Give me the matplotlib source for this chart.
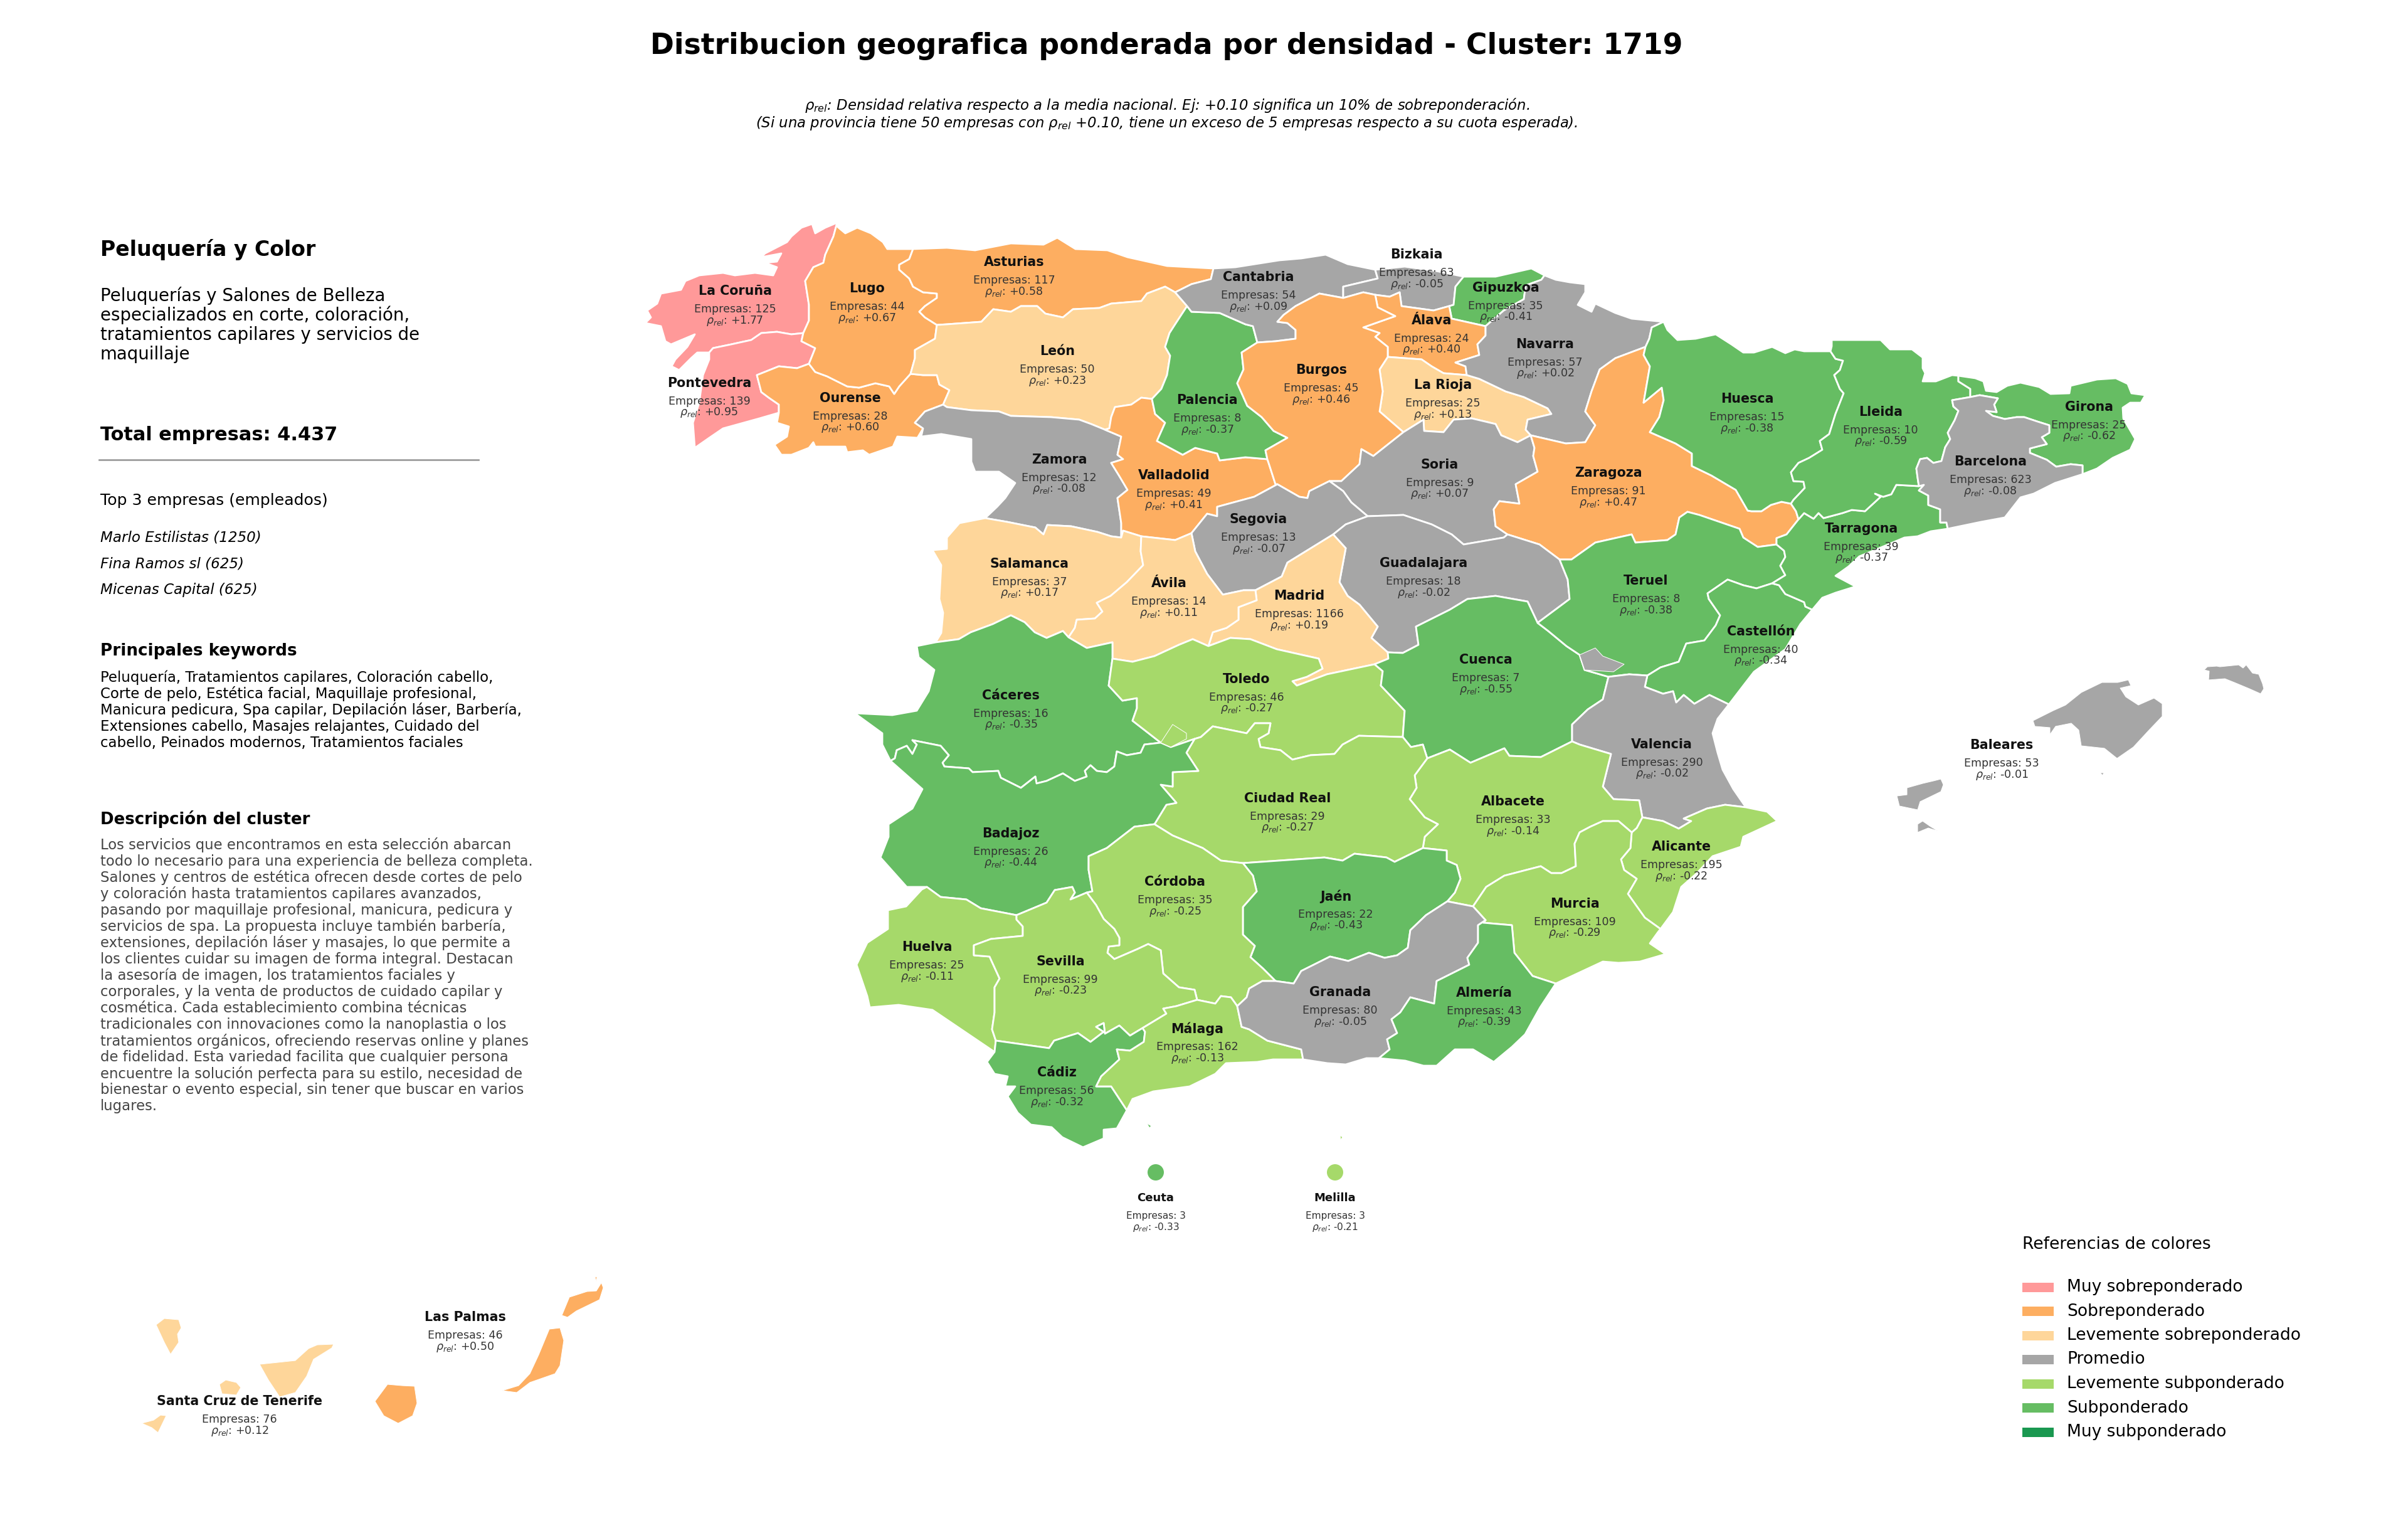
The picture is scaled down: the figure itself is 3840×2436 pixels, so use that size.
#!/usr/bin/env python3
"""Mapa de provincias ponderado por densidad, cluster 1719."""

import matplotlib
matplotlib.use("Agg")
import matplotlib.pyplot as plt
from matplotlib.patches import Circle, Polygon, Rectangle

# shared province borders, traced in image pixels
cor_coast = [(1335,355),(1316,363),(1300,372),(1295,357),(1278,363),(1262,377),(1255,386),(1220,404),(1214,410),(1246,404),(1239,417),(1220,419),(1239,426),(1233,439),(1204,435),(1172,439),(1153,435),(1134,437),(1115,439),(1093,448),(1086,462),(1054,468),(1048,484),(1032,495),(1038,506),(1029,515),(1054,520),(1061,544),(1070,549),(1108,533),(1096,553),(1077,573),(1071,584),(1083,590),(1102,571),(1112,562),(1131,562)]
cor_pon = [(1131,562),(1137,555),(1166,549),(1198,542),(1214,531),(1239,529),(1262,533),(1281,531)]
cor_lugo = [(1335,355),(1329,377),(1316,406),(1313,419),(1297,426),(1284,448),(1290,486),(1290,511),(1281,531)]
pon_lugo = [(1281,531),(1278,544),(1300,555),(1290,580)]
pon_coast = [(1131,562),(1131,573),(1121,598),(1115,642),(1105,674),(1108,714),(1131,698),(1153,683),(1211,667),(1242,658)]
pon_our = [(1290,580),(1271,587),(1242,584),(1207,598),(1214,625),(1226,634),(1242,645),(1242,658)]
our_south = [(1242,658),(1239,674),(1258,680),(1255,696),(1235,709),(1246,725),(1262,725),(1290,714),(1297,705),(1300,712),(1348,712),(1351,721),(1376,718),(1386,725),(1424,712),(1431,696),(1463,698),(1472,683)]
our_zam = [(1472,683),(1459,674),(1475,656),(1504,645)]
our_leon = [(1504,645),(1514,622),(1498,613),(1494,598),(1472,598),(1452,596)]
our_lugo = [(1452,596),(1434,616),(1426,628),(1418,616),(1396,611),(1370,618),(1351,616),(1319,600),(1300,593),(1290,580)]
lugo_coast = [(1335,355),(1336,362),(1348,372),(1367,363),(1389,372),(1408,386),(1415,397),(1456,397)]
lugo_ast = [(1456,397),(1450,413),(1434,422),(1434,430),(1450,444),(1456,457),(1472,466),(1494,468),(1494,475),(1475,488),(1466,497),(1475,506),(1494,518)]
lugo_leon = [(1494,518),(1491,540),(1459,558),(1459,571),(1452,596)]
ast_coast = [(1456,397),(1510,395),(1555,399),(1612,388),(1664,390),(1686,379),(1715,397),(1766,399),(1798,410),(1861,424),(1935,428)]
ast_cant = [(1935,428),(1931,445),(1900,453),(1874,466)]
ast_leon = [(1874,466),(1858,457),(1829,468),(1820,480),(1772,484),(1753,491),(1711,493),(1695,506),(1667,500),(1654,488),(1628,488),(1612,497),(1584,493),(1565,513),(1510,517),(1494,518)]
leon_cant = [(1874,466),(1893,488)]
leon_pal = [(1893,488),(1874,517),(1865,531),(1858,553),(1866,567),(1861,598),(1852,620),(1837,636)]
leon_val = [(1837,636),(1820,634),(1804,645),(1778,649),(1772,665),(1769,683),(1762,685)]
leon_zam = [(1762,685),(1740,676),(1721,669),(1676,665),(1612,663),(1593,656),(1549,654),(1510,649),(1504,645)]
zam_val = [(1762,685),(1788,696),(1782,725),(1791,732),(1772,738),(1785,759),(1798,781),(1782,794),(1788,834),(1788,857)]
zam_coast = [(1472,683),(1469,696),(1501,692),(1549,700),(1549,736),(1555,752),(1593,752),(1619,770),(1603,794),(1590,808),(1571,826)]
zam_sal = [(1571,826),(1606,832),(1651,841),(1664,852),(1670,837),(1708,839),(1750,848),(1772,855),(1788,857)]
sal_coast = [(1571,826),(1530,834),(1510,857),(1510,875),(1487,877),(1501,901),(1498,955),(1504,977),(1501,1009),(1492,1024)]
sal_cac = [(1492,1024),(1529,1019),(1548,1008),(1583,995),(1612,981),(1634,992),(1650,1008),(1669,1017),(1695,1006),(1704,1016)]
val_sal = [(1788,857),(1791,846),(1820,855)]
sal_avi = [(1820,855),(1819,879),(1823,901),(1797,928),(1771,950),(1749,961),(1758,975),(1746,986),(1717,988),(1714,1001),(1704,1016)]
avi_cac = [(1704,1016),(1733,1033),(1774,1024),(1774,1050)]
avi_tol = [(1774,1050),(1806,1055),(1841,1046),(1880,1028),(1902,1019),(1927,1030)]
avi_mad = [(1927,1030),(1934,1008),(1956,1001),(1975,988),(1975,968),(2004,957),(2002,941)]
val_avi = [(1820,855),(1874,861),(1900,850)]
val_seg = [(2037,772),(2000,792),(1941,808),(1941,823),(1925,819),(1900,850)]
val_bur = [(2021,732),(2024,741),(2034,772),(2037,772)]
seg_avi = [(1900,850),(1906,879),(1925,915),(1950,948),(1983,941),(2002,941)]
seg_mad = [(2002,941),(2044,919),(2053,897),(2126,852)]
seg_gua = [(2126,852),(2146,836),(2181,823)]
seg_sor = [(2120,767),(2142,783),(2155,801),(2181,823)]
seg_bur = [(2037,772),(2072,792),(2085,794),(2088,783),(2120,767)]
pal_val = [(1837,636),(1842,660),(1858,674),(1845,703),(1886,725),(1906,714),(1941,723),(1945,734),(1986,729),(2021,732)]
pal_bur = [(2021,732),(2018,718),(2053,698),(2031,687),(2012,665),(1989,647),(1973,611),(1983,589),(1980,562),(2005,546)]
pal_cant = [(2005,546),(1998,520),(1986,517),(1945,499),(1900,497),(1893,488)]
bur_cant = [(2005,546),(2034,544),(2066,540),(2066,526),(2053,515),(2037,513),(2047,502),(2066,488),(2104,468),(2142,475)]
cant_coast = [(1935,428),(1970,426),(2040,415),(2075,412),(2114,406),(2149,421),(2193,430)]
cant_biz = [(2193,430),(2197,444),(2142,457),(2142,475)]
biz_coast = [(2193,430),(2240,425),(2290,432),(2334,441)]
biz_gip = [(2334,441),(2321,457),(2318,486),(2311,488)]
biz_ala = [(2311,488),(2286,495),(2235,488),(2232,466),(2216,473),(2193,470)]
biz_bur = [(2193,470),(2174,466),(2142,475)]
gip_coast = [(2334,441),(2385,441),(2442,428),(2463,439)]
gip_nav = [(2463,439),(2458,446),(2433,455),(2430,477),(2398,495),(2369,520)]
gip_ala = [(2369,520),(2315,508),(2311,488)]
ala_nav = [(2369,520),(2369,535),(2356,549),(2359,566),(2321,578),(2337,584),(2339,598)]
ala_rio = [(2339,598),(2302,595),(2283,584),(2267,573),(2213,569)]
ala_bur = [(2193,470),(2197,490),(2225,504),(2174,522),(2200,531),(2193,537),(2213,553),(2213,569)]
rio_bur = [(2213,569),(2200,589),(2205,624),(2200,656),(2238,689)]
rio_sor = [(2238,689),(2270,669),(2271,687),(2302,689),(2318,669),(2347,667),(2385,676),(2394,694),(2420,705),(2441,694)]
rio_nav = [(2339,598),(2359,604),(2401,624),(2430,633),(2468,651),(2474,660),(2436,669),(2433,685),(2441,694)]
bur_sor = [(2120,767),(2139,767),(2168,740),(2171,716),(2190,727),(2238,689)]
nav_coast = [(2463,439),(2481,446),(2503,450),(2528,453),(2528,466),(2516,486),(2538,497),(2544,484),(2576,499),(2602,508),(2653,513)]
nav_hue = [(2624,553),(2630,540),(2634,522),(2653,513)]
nav_zar = [(2441,694),(2497,707),(2528,705),(2544,678),(2528,656),(2538,624),(2551,589),(2576,571),(2624,553)]
zar_sor = [(2404,852),(2385,839),(2382,812),(2391,799),(2423,803),(2417,772),(2452,752),(2445,727),(2447,714),(2441,694)]
sor_gua = [(2181,823),(2238,821),(2283,836),(2315,852),(2334,868),(2398,857),(2404,852)]
zar_hue = [(2624,553),(2621,566),(2631,584),(2621,642),(2650,618),(2653,638),(2646,665),(2631,689),(2672,707),(2698,723),(2698,743),(2729,758),(2768,781),(2787,814),(2793,815),(2809,815),(2824,805),(2841,800),(2856,803)]
zar_lle = [(2856,803),(2864,815),(2868,828)]
zar_tar = [(2868,828),(2849,852),(2833,858),(2833,868)]
zar_ter = [(2833,868),(2803,872),(2780,857),(2774,843),(2710,821),(2691,816),(2678,825),(2672,852),(2659,861),(2608,865),(2602,852),(2544,865),(2506,892),(2487,892)]
zar_gua = [(2487,892),(2455,868),(2404,852)]
gua_mad = [(2213,1040),(2187,1017),(2197,999),(2168,964),(2149,950),(2136,928),(2146,874),(2126,852)]
gua_cue = [(2452,993),(2436,959),(2385,950),(2340,955),(2312,972),(2258,999),(2262,1028),(2237,1041),(2213,1040)]
gua_ter = [(2487,892),(2500,924),(2503,955),(2452,993)]
mad_tol = [(1927,1030),(1962,1017),(1994,1019),(2036,1035),(2103,1050),(2109,1066),(2084,1079),(2061,1086),(2068,1093),(2116,1075),(2192,1059)]
mad_cue = [(2192,1059),(2214,1050),(2213,1040)]
cac_coast = [(1492,1024),(1462,1030),(1465,1048),(1490,1068),(1481,1102),(1462,1133),(1423,1140),(1363,1137),(1407,1169),(1407,1187),(1420,1213)]
cac_tol = [(1774,1050),(1768,1093),(1790,1117),(1813,1113),(1813,1129),(1806,1149),(1851,1184)]
cac_bad = [(1851,1184),(1825,1187),(1819,1200),(1797,1204),(1781,1198),(1777,1222),(1765,1231),(1749,1229),(1739,1220),(1730,1229),(1733,1238),(1714,1245),(1695,1233),(1669,1245),(1653,1249),(1651,1238),(1628,1256),(1596,1240),(1592,1229),(1551,1231),(1545,1225),(1506,1222),(1503,1216),(1513,1204),(1500,1189),(1455,1180),(1462,1187),(1455,1202),(1446,1189),(1430,1196),(1427,1209),(1420,1213)]
tol_bad = [(1851,1184),(1867,1191),(1905,1178)]
tol_cr = [(1905,1178),(1915,1175),(1934,1158),(1988,1169),(2001,1153),(2026,1153),(2023,1169),(2007,1178),(2010,1191),(2042,1196),(2061,1211),(2090,1204),(2128,1202),(2141,1187),(2167,1173),(2237,1175)]
tol_cue = [(2192,1059),(2205,1070),(2202,1093),(2240,1133),(2237,1175)]
cue_cr = [(2237,1175),(2250,1191),(2269,1187),(2276,1209)]
cue_alb = [(2276,1209),(2312,1195),(2345,1216),(2399,1193),(2407,1205),(2457,1207),(2507,1182)]
cue_val = [(2507,1182),(2507,1155),(2532,1131),(2556,1115),(2565,1079)]
ter_cue = [(2452,993),(2469,1006),(2498,1030),(2519,1044),(2527,1068),(2565,1079)]
ter_tar = [(2833,868),(2845,878),(2847,888),(2839,902),(2847,917),(2826,930)]
ter_cas = [(2826,930),(2801,938),(2780,933),(2755,924),(2723,946),(2725,955),(2743,981),(2736,997),(2718,1021),(2689,1026),(2677,1055),(2648,1064),(2627,1077)]
ter_val = [(2627,1077),(2598,1075),(2565,1079)]
cas_tar = [(2826,930),(2837,933),(2847,947),(2877,960),(2879,967),(2890,972)]
cas_coast = [(2890,972),(2871,995),(2847,1035),(2797,1071),(2780,1093),(2757,1123)]
cas_val = [(2757,1123),(2726,1108),(2702,1122),(2685,1108),(2673,1120),(2668,1102),(2652,1106),(2623,1095),(2627,1077)]
tar_coast = [(2890,972),(2906,953),(2927,945),(2959,935),(2927,918),(2948,903),(2965,887),(2999,873),(3037,857),(3058,855),(3079,847),(3106,843)]
tar_lle = [(2868,828),(2877,818),(2892,827),(2900,818),(2908,826),(2938,818),(2953,813),(2974,815),(2999,792),(2990,787),(3003,792),(3016,788),(3024,773),(3060,775)]
tar_bar = [(3106,843),(3104,833),(3094,833),(3094,812),(3075,805),(3075,790),(3060,782),(3068,773),(3060,775)]
hue_coast = [(2653,513),(2659,526),(2675,542),(2704,540),(2736,533),(2761,549),(2780,562),(2797,562),(2826,553),(2847,563),(2862,557),(2877,560),(2919,560)]
hue_lle = [(2919,560),(2927,572),(2939,575),(2934,590),(2925,598),(2934,620),(2940,627),(2927,660),(2917,692),(2902,703),(2906,717),(2885,730),(2868,738),(2856,753),(2860,767),(2876,768),(2878,778),(2860,797),(2856,803)]
lle_coast = [(2919,560),(2921,552),(2921,542),(2944,542),(2999,542),(3014,557),(3049,557),(3066,570),(3066,587),(3070,595),(3066,608),(3087,608),(3113,598),(3123,599)]
lle_gir = [(3142,633),(3142,620),(3123,608),(3123,599)]
lle_bar = [(3060,775),(3058,762),(3056,747),(3062,732),(3073,730),(3083,738),(3096,735),(3102,713),(3110,700),(3106,690),(3117,670),(3123,655),(3115,648),(3113,638),(3142,633)]
gir_coast = [(3123,599),(3150,603),(3163,608),(3167,623),(3184,625),(3201,615),(3222,610),(3252,617),(3270,628),(3300,627),(3302,615),(3344,605),(3374,603),(3393,612),(3399,627),(3421,630),(3414,642),(3397,642),(3385,650),(3386,667),(3405,700),(3397,717),(3369,730),(3344,747),(3321,756)]
gir_bar = [(3321,756),(3321,742),(3302,740),(3279,744),(3264,733),(3237,722),(3237,715),(3264,708),(3256,697),(3268,690),(3268,678),(3249,672),(3228,665),(3216,665),(3197,668),(3178,663),(3167,655),(3184,657),(3180,645),(3186,635),(3157,630),(3142,633)]
bar_coast = [(3321,756),(3277,770),(3243,787),(3222,793),(3197,825),(3159,832),(3106,843)]
val_coast = [(2757,1123),(2739,1146),(2731,1169),(2739,1200),(2747,1227),(2764,1258),(2784,1287)]
val_ali = [(2619,1303),(2652,1309),(2677,1321),(2697,1309),(2685,1305),(2722,1289),(2751,1283),(2784,1287)]
alb_val = [(2507,1182),(2519,1187),(2569,1202),(2556,1254),(2573,1274),(2614,1276),(2619,1303)]
ali_coast = [(2784,1287),(2818,1294),(2834,1309),(2780,1334),(2776,1350),(2731,1365),(2706,1392),(2681,1414),(2668,1454),(2648,1481)]
ali_mur = [(2602,1327),(2600,1352),(2585,1370),(2590,1387),(2610,1401),(2596,1425),(2623,1463),(2648,1481)]
ali_alb = [(2619,1303),(2610,1320),(2602,1327)]
alb_mur = [(2602,1327),(2581,1309),(2556,1309),(2536,1318),(2519,1327),(2511,1345),(2513,1381),(2490,1392),(2474,1392),(2457,1381),(2399,1396),(2370,1414),(2349,1445)]
alb_gra = [(2349,1445),(2308,1437)]
alb_jaen = [(2308,1437),(2320,1423),(2329,1401),(2323,1379),(2307,1372),(2307,1356),(2269,1352)]
alb_cr = [(2276,1209),(2256,1236),(2259,1256),(2248,1274),(2272,1303),(2293,1314),(2272,1334),(2269,1352)]
mur_coast = [(2481,1568),(2556,1533),(2581,1535),(2615,1533),(2656,1521),(2631,1504),(2644,1486),(2648,1481)]
alm_mur = [(2481,1568),(2444,1556),(2415,1519),(2411,1475),(2365,1471),(2369,1467)]
gra_mur = [(2349,1445),(2369,1467)]
cr_jaen = [(2269,1352),(2224,1374),(2211,1367),(2160,1361),(2141,1372),(2112,1367),(1982,1376)]
cr_cor = [(1982,1376),(1947,1372),(1918,1352),(1870,1332),(1841,1314)]
cr_bad = [(1841,1314),(1860,1283),(1876,1280),(1851,1251),(1870,1254),(1870,1231),(1911,1229),(1892,1200),(1905,1178)]
bad_coast = [(1420,1213),(1471,1258),(1455,1289),(1417,1314),(1417,1334),(1404,1367),(1446,1414),(1478,1414)]
bad_hva = [(1478,1414),(1500,1430),(1541,1434),(1564,1448),(1621,1459)]
bad_sev = [(1621,1459),(1669,1439),(1682,1419),(1710,1414),(1714,1423),(1707,1434),(1733,1423)]
bad_cor = [(1733,1423),(1742,1421),(1736,1387),(1736,1365),(1765,1352),(1809,1318),(1841,1314)]
hva_sev = [(1621,1459),(1621,1466),(1631,1477),(1631,1492),(1580,1497),(1553,1507),(1553,1523),(1578,1525),(1594,1560),(1586,1574),(1586,1614),(1582,1641),(1588,1659)]
hva_cad = [(1588,1659),(1586,1677)]
hva_coast = [(1586,1677),(1487,1610),(1433,1602),(1387,1606),(1383,1588),(1366,1538),(1383,1503),(1416,1481),(1416,1451),(1445,1445),(1470,1418),(1478,1414)]
sev_cad = [(1588,1659),(1673,1671),(1681,1659),(1719,1647),(1739,1661),(1760,1645),(1748,1637),(1760,1631),(1762,1648),(1785,1635),(1802,1651),(1822,1639)]
sev_mal = [(1822,1639),(1860,1616),(1855,1608),(1876,1604),(1909,1594)]
cor_sev = [(1909,1594),(1905,1578),(1880,1574),(1855,1552),(1851,1515),(1831,1505),(1814,1513),(1777,1529),(1766,1519),(1768,1509),(1785,1507),(1785,1495),(1777,1481),(1760,1465),(1748,1443),(1733,1423)]
cor_jaen = [(1982,1376),(1998,1396),(2004,1421),(1982,1446),(1982,1490),(2001,1508),(1994,1526),(2014,1544),(2034,1564)]
cor_gra = [(2034,1564),(2013,1564),(1992,1576),(1988,1590),(1973,1604)]
mal_cor = [(1973,1604),(1963,1590),(1947,1588),(1938,1600),(1909,1594)]
jaen_gra = [(2034,1564),(2063,1568),(2075,1548),(2121,1525),(2150,1532),(2183,1519),(2208,1527),(2228,1523),(2245,1511),(2249,1483),(2274,1459),(2308,1437)]
cad_mal = [(1822,1639),(1826,1645),(1824,1661),(1802,1675),(1781,1673),(1785,1689),(1756,1716),(1748,1732),(1772,1732),(1797,1770)]
cad_coast = [(1797,1770),(1781,1799),(1760,1801),(1760,1815),(1727,1829),(1694,1813),(1677,1797),(1644,1793),(1623,1774),(1607,1748),(1619,1732),(1603,1732),(1607,1716),(1586,1712),(1574,1693),(1586,1677)]
mal_coast = [(1797,1770),(1806,1752),(1839,1740),(1897,1732),(1938,1712),(1955,1695),(2005,1693),(2030,1689),(2078,1689)]
mal_gra = [(2078,1689),(2075,1673),(2021,1659),(1992,1641),(1980,1637),(1973,1604)]
gra_coast = [(2078,1689),(2117,1695),(2146,1697),(2179,1687),(2199,1687)]
gra_alm = [(2369,1467),(2357,1475),(2357,1503),(2340,1527),(2343,1538),(2291,1564),(2287,1600),(2249,1590),(2233,1614),(2219,1625),(2228,1647),(2212,1657),(2216,1673),(2199,1687)]
alm_coast = [(2199,1687),(2241,1691),(2270,1699),(2291,1699),(2320,1673),(2349,1673),(2382,1693),(2411,1669),(2432,1649),(2456,1606),(2481,1568)]

# loose pieces
ademuz = [(2519,1044),(2544,1033),(2556,1046),(2590,1059),(2573,1071),(2527,1068)]
toledo_isla = [(1851,1184),(1870,1155),(1892,1169),(1892,1178),(1867,1191)]
mallorca = [(3394,1084),(3377,1088),(3352,1088),(3319,1104),(3294,1124),(3274,1133),(3242,1149),(3245,1158),(3269,1160),(3269,1171),(3278,1158),(3303,1153),(3315,1164),(3319,1189),(3356,1193),(3376,1209),(3402,1191),(3427,1164),(3448,1142),(3448,1122),(3435,1113),(3410,1124),(3390,1111),(3381,1097),(3398,1093)]
menorca = [(3515,1068),(3520,1063),(3535,1062),(3540,1063),(3560,1061),(3570,1060),(3577,1065),(3582,1060),(3592,1073),(3602,1075),(3608,1090),(3610,1098),(3605,1106),(3587,1098),(3563,1088),(3548,1082),(3522,1084),(3523,1070)]
ibiza = [(3095,1242),(3083,1245),(3066,1249),(3041,1256),(3041,1267),(3025,1269),(3029,1285),(3058,1291),(3062,1278),(3095,1262),(3099,1251)]
formentera = [(3066,1309),(3058,1314),(3058,1327),(3075,1320),(3091,1325),(3079,1318)]
cabrera = [(3349,1232),(3355,1232),(3353,1236)]
la_palma = [(249,2112),(262,2102),(285,2104),(289,2117),(283,2127),(285,2140),(272,2159),(262,2140)]
tenerife = [(414,2175),(443,2172),(471,2169),(492,2150),(506,2144),(532,2143),(529,2149),(500,2167),(489,2194),(471,2220),(446,2227),(428,2200)]
gomera = [(350,2207),(360,2200),(377,2204),(384,2212),(377,2224),(354,2222)]
hierro = [(226,2269),(245,2264),(256,2256),(265,2257),(252,2284),(242,2276)]
gran_canaria = [(598,2234),(618,2207),(641,2209),(661,2210),(665,2237),(658,2257),(635,2269),(612,2257)]
fuerteventura = [(876,2119),(893,2117),(899,2137),(893,2177),(885,2190),(845,2204),(824,2220),(801,2217),(827,2209),(845,2190),(859,2160)]
lanzarote = [(896,2097),(908,2068),(936,2059),(951,2058),(959,2045),(962,2053),(956,2072),(919,2090),(905,2100)]
graciosa = [(949,2036),(952,2035),(951,2043)]
ceuta_costa = [(1829,1791),(1836,1795),(1833,1798)]
melilla_costa = [(2137,1810),(2141,1813),(2138,1817)]

provinces = ["La Coruña","Lugo","Asturias","Pontevedra","Ourense","León","Zamora","Salamanca","Valladolid","Palencia","Ávila","Segovia","Cantabria","Bizkaia","Gipuzkoa","Álava","Navarra","Burgos","La Rioja","Soria","Zaragoza","Huesca","Lleida","Girona","Barcelona","Tarragona","Guadalajara","Madrid","Teruel","Cuenca","Castellón","Toledo","Cáceres","Ciudad Real","Badajoz","Córdoba","Jaén","Granada","Huelva","Sevilla","Málaga","Cádiz","Almería","Murcia","Alicante","Albacete","Valencia","Baleares","Las Palmas","Santa Cruz de Tenerife","Ceuta","Melilla"]
empresas = [125,44,117,139,28,50,12,37,49,8,14,13,54,63,35,24,57,45,25,9,91,15,10,25,623,39,18,1166,8,7,40,46,16,29,26,35,22,80,25,99,162,56,43,109,195,33,290,53,46,76,3,3]
rho_rel = [1.77,0.67,0.58,0.95,0.60,0.23,-0.08,0.17,0.41,-0.37,0.11,-0.07,0.09,-0.05,-0.41,0.40,0.02,0.46,0.13,0.07,0.47,-0.38,-0.59,-0.62,-0.08,-0.37,-0.02,0.19,-0.38,-0.55,-0.34,-0.27,-0.35,-0.27,-0.44,-0.25,-0.43,-0.05,-0.11,-0.23,-0.13,-0.32,-0.39,-0.29,-0.22,-0.14,-0.02,-0.01,0.50,0.12,-0.33,-0.21]
label_x = [1172,1383,1617,1131,1356,1686,1689,1642,1872,1925,1864,2007,2007,2259,2401,2283,2464,2107,2301,2296,2565,2786,2999,3331,3174,2968,2270,2072,2625,2369,2808,1988,1612,2053,1612,1874,2130,2137,1478,1691,1909,1685,2367,2511,2681,2413,2650,3192,742,382,1843,2129]
label_y = [464,460,418,611,635,560,733,899,758,638,930,828,442,406,459,511,549,590,614,741,754,636,657,649,736,843,898,950,926,1052,1007,1083,1109,1273,1329,1406,1429,1582,1510,1533,1640,1710,1583,1441,1350,1278,1187,1188,2100,2234,1910,1910]

rings = {
    "La Coruña": [cor_coast, cor_pon, cor_lugo],
    "Pontevedra": [cor_pon, pon_lugo, pon_our, pon_coast],
    "Ourense": [our_south, our_zam, our_leon, our_lugo, pon_our],
    "Lugo": [lugo_coast, lugo_ast, lugo_leon, our_lugo, pon_lugo, cor_lugo],
    "Asturias": [ast_coast, ast_cant, ast_leon, lugo_ast],
    "León": [ast_leon, leon_cant, leon_pal, leon_val, leon_zam, our_leon, lugo_leon],
    "Zamora": [leon_zam, our_zam, zam_coast, zam_sal, zam_val],
    "Valladolid": [leon_val, pal_val, val_bur, val_seg, val_avi, val_sal, zam_val],
    "Palencia": [leon_pal, pal_val, pal_bur, pal_cant],
    "Cantabria": [ast_cant, cant_coast, cant_biz, bur_cant, pal_cant, leon_cant],
    "Bizkaia": [biz_coast, biz_gip, biz_ala, biz_bur, cant_biz],
    "Gipuzkoa": [gip_coast, gip_nav, gip_ala, biz_gip],
    "Álava": [gip_ala, ala_nav, ala_rio, ala_bur, biz_ala],
    "La Rioja": [ala_rio, rio_bur, rio_sor, rio_nav],
    "Burgos": [bur_cant, biz_bur, ala_bur, rio_bur, bur_sor, seg_bur, val_bur, pal_bur],
    "Navarra": [gip_nav, nav_coast, nav_hue, nav_zar, rio_nav, ala_nav],
    "Soria": [bur_sor, rio_sor, zar_sor, sor_gua, seg_sor],
    "Segovia": [val_seg, seg_avi, seg_mad, seg_gua, seg_sor, seg_bur],
    "Zaragoza": [nav_zar, zar_hue, zar_lle, zar_tar, zar_ter, zar_gua, zar_sor],
    "Guadalajara": [seg_gua, sor_gua, zar_gua, gua_ter, gua_cue, gua_mad],
    "Madrid": [seg_mad, gua_mad, mad_cue, mad_tol, avi_mad],
    "Salamanca": [sal_coast, sal_cac, sal_avi, val_sal, zam_sal],
    "Ávila": [sal_avi, avi_cac, avi_tol, avi_mad, seg_avi, val_avi],
    "Cáceres": [sal_cac, avi_cac, cac_tol, cac_bad, cac_coast],
    "Toledo": [avi_tol, mad_tol, tol_cue, tol_cr, tol_bad, cac_tol],
    "Cuenca": [mad_cue, gua_cue, ter_cue, cue_val, cue_alb, cue_cr, tol_cue],
    "Teruel": [ter_tar, ter_cas, ter_val, ter_cue, gua_ter, zar_ter],
    "Castellón": [cas_tar, cas_coast, cas_val, ter_cas],
    "Tarragona": [zar_tar, ter_tar, cas_tar, tar_coast, tar_bar, tar_lle],
    "Huesca": [nav_hue, hue_coast, hue_lle, zar_hue],
    "Lleida": [lle_coast, lle_gir, lle_bar, tar_lle, zar_lle, hue_lle],
    "Girona": [lle_gir, gir_coast, gir_bar],
    "Barcelona": [lle_bar, gir_bar, bar_coast, tar_bar],
    "Valencia": [cas_val, ter_val, cue_val, alb_val, val_ali, val_coast],
    "Alicante": [val_ali, ali_coast, ali_mur, ali_alb],
    "Albacete": [alb_val, ali_alb, alb_mur, alb_gra, alb_jaen, alb_cr, cue_alb],
    "Murcia": [ali_mur, mur_coast, alm_mur, gra_mur, alb_mur],
    "Ciudad Real": [tol_cr, cue_cr, alb_cr, cr_jaen, cr_cor, cr_bad],
    "Jaén": [cr_jaen, cor_jaen, jaen_gra, alb_jaen],
    "Badajoz": [cac_bad, bad_coast, bad_hva, bad_sev, bad_cor, cr_bad, tol_bad],
    "Córdoba": [bad_cor, cr_cor, cor_jaen, cor_gra, mal_cor, cor_sev],
    "Huelva": [bad_hva, hva_sev, hva_cad, hva_coast],
    "Sevilla": [hva_sev, sev_cad, sev_mal, cor_sev, bad_sev],
    "Cádiz": [sev_cad, cad_mal, cad_coast, hva_cad],
    "Málaga": [sev_mal, mal_cor, mal_gra, mal_coast, cad_mal],
    "Granada": [cor_gra, mal_gra, gra_coast, gra_alm, gra_mur, alb_gra, jaen_gra],
    "Almería": [gra_alm, alm_coast, alm_mur],
}
# pieces that are not rings of shared borders, keyed by province
extra_shapes = {
    "Valencia": [ademuz],
    "Toledo": [toledo_isla],
    "Baleares": [mallorca, menorca, ibiza, formentera, cabrera],
    "Santa Cruz de Tenerife": [la_palma, tenerife, gomera, hierro],
    "Las Palmas": [gran_canaria, fuerteventura, lanzarote, graciosa],
    "Ceuta": [ceuta_costa],
    "Melilla": [melilla_costa],
}

legend_labels = ["Muy sobreponderado","Sobreponderado","Levemente sobreponderado","Promedio","Levemente subponderado","Subponderado","Muy subponderado"]
legend_colors = ["#ff9999","#fdae61","#fed69a","#a6a6a6","#a6d96a","#66bd63","#1a9850"]
class_limits = [0.75, 0.30, 0.10, -0.10, -0.30, -0.75]

blurb = ["Peluquerías y Salones de Belleza","especializados en corte, coloración,","tratamientos capilares y servicios de","maquillaje"]
top_firms = ["Marlo Estilistas (1250)","Fina Ramos sl (625)","Micenas Capital (625)"]
keywords = ["Peluquería, Tratamientos capilares, Coloración cabello,","Corte de pelo, Estética facial, Maquillaje profesional,","Manicura pedicura, Spa capilar, Depilación láser, Barbería,","Extensiones cabello, Masajes relajantes, Cuidado del","cabello, Peinados modernos, Tratamientos faciales"]
description = ["Los servicios que encontramos en esta selección abarcan","todo lo necesario para una experiencia de belleza completa.","Salones y centros de estética ofrecen desde cortes de pelo","y coloración hasta tratamientos capilares avanzados,","pasando por maquillaje profesional, manicura, pedicura y","servicios de spa. La propuesta incluye también barbería,","extensiones, depilación láser y masajes, lo que permite a","los clientes cuidar su imagen de forma integral. Destacan","la asesoría de imagen, los tratamientos faciales y","corporales, y la venta de productos de cuidado capilar y","cosmética. Cada establecimiento combina técnicas","tradicionales con innovaciones como la nanoplastia o los","tratamientos orgánicos, ofreciendo reservas online y planes","de fidelidad. Esta variedad facilita que cualquier persona","encuentre la solución perfecta para su estilo, necesidad de","bienestar o evento especial, sin tener que buscar en varios","lugares."]


def chain(arcs):
    """Join border arcs into one ring, flipping each arc where needed."""
    first = arcs[0]
    if first[-1] not in (arcs[1][0], arcs[1][-1]):
        first = first[::-1]
    pts = list(first)
    for arc in arcs[1:]:
        if arc[0] == pts[-1]:
            pts.extend(arc[1:])
        elif arc[-1] == pts[-1]:
            pts.extend(arc[::-1][1:])
        else:
            raise ValueError(f"broken ring at {pts[-1]} -> {arc[0]}")
    if pts[0] != pts[-1]:
        raise ValueError(f"open ring {pts[0]} {pts[-1]}")
    return pts


def class_color(value):
    for limit, color in zip(class_limits, legend_colors):
        if value >= limit:
            return color
    return legend_colors[-1]


def lines(ax, x, y0, step, rows, **kw):
    for i, row in enumerate(rows):
        ax.text(x, y0 + i * step, row, va="center", ha="left", **kw)


def main():
    fig = plt.figure(figsize=(16, 10.15), dpi=240)
    ax = fig.add_axes([0, 0, 1, 1])
    ax.set_xlim(0, 3840)
    ax.set_ylim(2436, 0)
    ax.axis("off")

    colors = dict(zip(provinces, map(class_color, rho_rel)))
    for name, arcs in rings.items():
        ax.add_patch(Polygon(chain(arcs), closed=True, facecolor=colors[name], edgecolor="white", linewidth=0.85, joinstyle="round"))
    for name, shapes in extra_shapes.items():
        for shape in shapes:
            ax.add_patch(Polygon(shape, closed=True, facecolor=colors[name], edgecolor="white", linewidth=0.3, joinstyle="round"))
    ax.add_patch(Circle((1843, 1869), 13, facecolor=colors["Ceuta"], edgecolor="none"))
    ax.add_patch(Circle((2129, 1869), 13, facecolor=colors["Melilla"], edgecolor="none"))

    for name, n, rho, x, y in zip(provinces, empresas, rho_rel, label_x, label_y):
        small = name in ("Ceuta", "Melilla")
        ax.text(x, y, name, ha="center", va="center", fontsize=5.4 if small else 6.2, fontweight="bold", color="#111111")
        ax.text(x, y + 29, f"Empresas: {n}", ha="center", va="center", fontsize=4.6 if small else 5.25, color="#333333")
        ax.text(x, y + 47, rf"$\rho_{{rel}}$: {rho:+.2f}", ha="center", va="center", fontsize=4.6 if small else 5.25, color="#333333")

    ax.text(1860, 73, "Distribucion geografica ponderada por densidad - Cluster: 1719", ha="center", va="center", fontsize=13.7, fontweight="bold")
    ax.text(1861, 168, r"$\rho_{rel}$: Densidad relativa respecto a la media nacional. Ej: +0.10 significa un 10% de sobreponderación.", ha="center", va="center", fontsize=6.83, style="italic")
    ax.text(1861, 197, r"(Si una provincia tiene 50 empresas con $\rho_{rel}$ +0.10, tiene un exceso de 5 empresas respecto a su cuota esperada).", ha="center", va="center", fontsize=6.83, style="italic")

    left = 160
    ax.text(left, 398, "Peluquería y Color", va="center", fontsize=9.95, fontweight="bold")
    lines(ax, left, 471, 31.3, blurb, fontsize=8.3)
    ax.text(left, 694, "Total empresas: 4.437", va="center", fontsize=9.1, fontweight="bold")
    ax.plot([158, 763], [733, 733], color="#999999", linewidth=0.8)
    ax.text(left, 798, "Top 3 empresas (empleados)", va="center", fontsize=7.55)
    lines(ax, left, 857, 42, top_firms, fontsize=6.9, style="italic")
    ax.text(left, 1038, "Principales keywords", va="center", fontsize=7.85, fontweight="bold")
    lines(ax, left, 1080, 26.2, keywords, fontsize=6.85)
    ax.text(left, 1306, "Descripción del cluster", va="center", fontsize=7.8, fontweight="bold")
    lines(ax, left, 1347, 26.06, description, fontsize=6.83, color="#444444")

    ax.text(3225, 1984, "Referencias de colores", va="center", fontsize=8.0)
    for i, (label, color) in enumerate(zip(legend_labels, legend_colors)):
        y = 2052 + i * 38.5
        ax.add_patch(Rectangle((3225, y - 7.5), 50, 15, facecolor=color, edgecolor="none"))
        ax.text(3296, y, label, va="center", fontsize=7.95)

    fig.savefig("out.png", dpi=240, facecolor="white")
    plt.close(fig)


if __name__ == "__main__":
    main()
